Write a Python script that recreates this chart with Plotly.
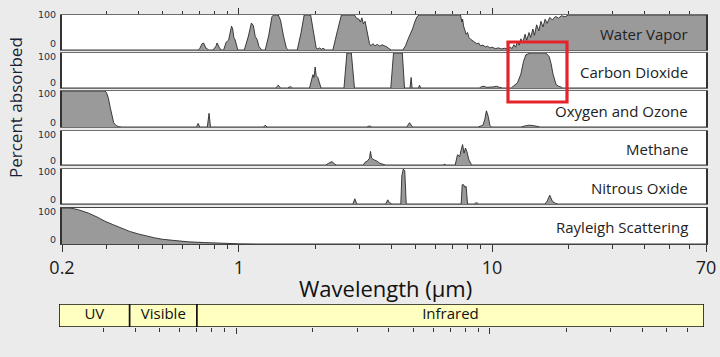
import math
import plotly.graph_objects as go

# ---------------- data ----------------
wv_wl = [0.2, 0.55, 0.58, 0.60, 0.64, 0.65, 0.66, 0.69, 0.70, 0.715, 0.725, 0.74, 0.76,
         0.79, 0.81, 0.82, 0.835, 0.85, 0.87, 0.89, 0.91, 0.925, 0.935, 0.945, 0.955, 0.965, 0.98, 0.99,
         1.05, 1.09, 1.12, 1.14, 1.16, 1.18, 1.20, 1.23,
         1.27, 1.31, 1.35, 1.37, 1.43, 1.46, 1.50, 1.54, 1.57,
         1.70, 1.76, 1.81, 1.92, 1.97, 2.02, 2.05, 2.08, 2.12, 2.15, 2.20,
         2.35, 2.45, 2.54, 2.86, 2.92, 2.98, 3.02, 3.06, 3.10, 3.15, 3.20, 3.28, 3.32, 3.38, 3.45,
         3.52, 3.60, 3.68, 3.75, 3.82, 3.90, 4.00, 4.44,
         4.55, 4.65, 4.75, 4.85, 4.95, 5.05, 5.15, 7.50,
         7.60, 7.65, 7.72, 7.80, 7.90, 8.00, 8.10, 8.25, 8.40, 8.55, 8.70, 8.85, 9.00, 9.20, 9.40,
         9.60, 9.80, 10.0, 10.3, 10.6, 10.9, 11.2, 11.5, 11.8, 12.0, 12.2, 12.4, 12.6, 12.8, 13.0,
         13.2, 13.5, 13.7, 14.0, 14.2, 14.5, 14.7, 15.0, 15.3, 15.6, 15.9, 16.2, 16.5, 16.9, 17.3,
         17.8, 18.3, 18.8, 19.4, 20.0, 70.0]
wv_pct = [0, 0, 2, 0, 0, 2, 0, 0, 4, 18, 20, 6, 0,
          0, 10, 20, 8, 0, 0, 22, 28, 55, 68, 60, 35, 30, 10, 0,
          0, 40, 77, 70, 38, 30, 10, 0,
          0, 40, 95, 100, 100, 85, 40, 5, 0,
          0, 50, 100, 100, 50, 5, 3, 6, 2, 5, 0,
          0, 55, 100, 100, 90, 88, 80, 92, 75, 82, 55, 18, 12, 18, 12,
          16, 11, 15, 12, 10, 5, 0, 0,
          12, 30, 45, 60, 80, 95, 100, 100,
          80, 88, 68, 58, 45, 50, 36, 30, 25, 22, 18, 20, 12, 14, 9,
          11, 6, 8, 4, 6, 3, 5, 3, 8, 4, 15, 8, 25, 14, 32,
          20, 45, 28, 50, 36, 60, 42, 72, 55, 82, 66, 88, 76, 93, 86,
          96, 91, 98, 95, 100, 100]

co2_wl = [0.2, 1.40, 1.43, 1.46, 1.56, 1.58, 1.61, 1.63,
          1.90, 1.94, 1.96, 1.98, 2.00, 2.02, 2.05, 2.08, 2.11,
          2.60, 2.67, 2.78, 2.86,
          3.98, 4.08, 4.42, 4.51,
          4.74, 4.79, 4.83, 5.12, 5.17, 5.22,
          8.9, 9.1, 9.3, 9.5, 10.1, 10.4, 10.7, 11.0,
          11.9, 12.1, 12.6, 13.0, 13.3, 13.6, 14.2, 16.3, 16.8, 17.1, 17.4, 17.9, 18.3, 18.7, 19.0, 70.0]
co2_pct = [0, 0, 8, 0, 0, 3, 3, 0,
           0, 25, 38, 30, 60, 35, 30, 15, 0,
           0, 100, 100, 0,
           0, 100, 100, 0,
           0, 30, 0, 0, 8, 0,
           0, 4, 5, 2, 3, 5, 2, 0,
           0, 5, 15, 40, 75, 95, 100, 100, 90, 70, 40, 10, 5, 3, 0, 0]

oz_wl = [0.2, 0.296, 0.300, 0.305, 0.310, 0.315, 0.320, 0.327, 0.335, 0.345,
         0.68, 0.69, 0.70, 0.75, 0.762, 0.772, 1.25, 1.27, 1.29, 3.2, 3.28, 3.35,
         4.6, 4.72, 4.80, 4.85, 8.8, 9.0, 9.2, 9.35, 9.5, 9.65, 9.8, 9.95,
         13.0, 13.5, 14.0, 14.5, 15.0, 15.5, 70.0]
oz_pct = [100, 100, 95, 80, 55, 30, 12, 4, 1, 0,
          0, 10, 0, 0, 38, 0, 0, 5, 0, 0, 3, 0,
          0, 12, 2, 0, 0, 3, 5, 20, 45, 30, 5, 0,
          0, 3, 5, 4, 2, 0, 0]

ch4_wl = [0.2, 1.60, 1.65, 1.70, 2.20, 2.26, 2.30, 2.33, 2.37, 2.42,
          3.10, 3.15, 3.22, 3.28, 3.31, 3.34, 3.42, 3.50, 3.60, 3.70, 3.80,
          6.40, 6.50, 6.60, 7.15, 7.30, 7.45, 7.55, 7.65, 7.75, 7.85, 7.95, 8.10, 8.30, 70.0]
ch4_pct = [0, 0, 2, 0, 0, 5, 9, 10, 5, 0,
           0, 8, 12, 20, 40, 20, 15, 12, 5, 2, 0,
           0, 2, 0, 0, 30, 25, 45, 60, 35, 50, 40, 15, 0, 0]

n2o_wl = [0.2, 2.82, 2.87, 2.92, 3.80, 3.87, 3.93, 3.98, 4.02,
          4.36, 4.40, 4.46, 4.52, 4.58, 7.55, 7.62, 7.72, 7.80, 7.90, 8.00,
          8.50, 8.60, 8.75, 8.85, 16.2, 16.5, 16.9, 17.3, 17.8, 18.2, 70.0]
n2o_pct = [0, 0, 15, 0, 0, 12, 4, 3, 0,
           0, 80, 100, 95, 0, 0, 55, 55, 48, 50, 0,
           0, 3, 3, 0, 0, 8, 25, 8, 2, 0, 0]

ray_wl = [0.2, 0.215, 0.23, 0.254, 0.275, 0.296, 0.32, 0.344, 0.37, 0.40, 0.43, 0.465,
          0.50, 0.54, 0.58, 0.63, 0.73, 0.85, 1.0, 1.2, 70.0]
ray_pct = [100, 100, 96, 86, 75, 63, 53, 44, 35, 28, 22, 17,
           13, 10, 8, 6, 4, 2, 0.5, 0, 0]

panel_names = ["Water Vapor", "Carbon Dioxide", "Oxygen and Ozone",
               "Methane", "Nitrous Oxide", "Rayleigh Scattering"]
series_wl = [wv_wl, co2_wl, oz_wl, ch4_wl, n2o_wl, ray_wl]
series_pct = [wv_pct, co2_pct, oz_pct, ch4_pct, n2o_pct, ray_pct]

band_names = ["UV", "Visible", "Infrared"]
band_edges = [0.2, 0.38, 0.7, 70.0]

x_tick_vals = [0.2, 1, 10, 70]
x_tick_text = ["0.2", "1", "10", "70"]
minor_vals = [0.3, 0.4, 0.5, 0.6, 0.7, 0.8, 0.9, 2, 3, 4, 5, 6, 7, 8, 9, 20, 30, 40, 50, 60]
y_tick_vals = [0, 100]

# ---------------- layout helpers ----------------
W, H = 720, 357
def pxx(x):
    return x / W
def pxy(y):
    return (H - y) / H

panels_px = [(15, 50), (53, 88), (91, 127), (131, 165), (169, 204), (208, 244)]
XL, XR = 62, 706
xrange_log = [math.log10(0.2), math.log10(70)]

fig = go.Figure()
layout = dict(
    width=W, height=H, autosize=False,
    margin=dict(l=0, r=0, t=0, b=0, pad=0, autoexpand=False),
    paper_bgcolor="#ebebeb",
    plot_bgcolor="white",
    showlegend=False,
    font=dict(family="Open Sans", color="#222"),
)

annotations = []
for i, (name, wl, pct) in enumerate(zip(panel_names, series_wl, series_pct)):
    k = "" if i == 0 else str(i + 1)
    fig.add_trace(go.Scatter(
        x=wl, y=pct, mode="lines", fill="tozeroy",
        fillcolor="#9a9a9a", line=dict(color="#2a2a2a", width=0.9),
        xaxis="x" + k, yaxis="y" + k, name=name, hoverinfo="x+y+name"))
    top, bot = panels_px[i]
    xa = dict(domain=[pxx(XL), pxx(XR)], anchor="y" + k, type="log", range=xrange_log,
              showgrid=False, zeroline=False, showline=True, mirror=True, automargin=False,
              linecolor="#6e6e6e", linewidth=1.2, showticklabels=False, ticks="")
    if i == 0:
        xa.update(side="top", ticks="outside", tickvals=[1, 10], ticklen=6, tickwidth=1.3,
                  tickcolor="#333",
                  minor=dict(tickmode="array", tickvals=minor_vals, ticks="outside",
                             ticklen=3, tickwidth=1.2, tickcolor="#333"))
    if i == 5:
        xa.update(ticks="outside", tickvals=x_tick_vals, ticktext=x_tick_text,
                  showticklabels=True, ticklen=7, tickwidth=1.3, tickcolor="#333",
                  linecolor="#444",
                  tickfont=dict(family="Open Sans", size=18, color="#1a1a1a"),
                  minor=dict(tickmode="array", tickvals=minor_vals, ticks="outside",
                             ticklen=4, tickwidth=1.2, tickcolor="#333"))
    ya = dict(domain=[pxy(bot), pxy(top)], anchor="x" + k, range=[0, 100], automargin=False,
              tickvals=y_tick_vals, showticklabels=False, ticks="",
              showgrid=False, zeroline=False, showline=True, mirror=True,
              linecolor="#333", linewidth=1.5, fixedrange=True)
    layout["xaxis" + k] = xa
    layout["yaxis" + k] = ya
    annotations.append(dict(text=name, xref="paper", yref="paper",
                            x=pxx(690), y=pxy((top + bot) / 2 + 1.5),
                            xanchor="right", yanchor="middle", showarrow=False,
                            font=dict(family="Open Sans", size=15, color="#222")))
    y100 = top + (0 if i == 0 else 3)
    y0 = bot - (7 if i == 0 else 5)
    for txt, yy in ((str(y_tick_vals[1]), y100), (str(y_tick_vals[0]), y0)):
        annotations.append(dict(text=txt, xref="paper", yref="paper",
                                x=pxx(58), y=pxy(yy), xanchor="right", yanchor="middle",
                                showarrow=False,
                                font=dict(family="DejaVu Sans", size=9.5, color="#25304d")))

# spectral band bar
BT, BB = 304, 327
for j, nm in enumerate(band_names):
    a, b = band_edges[j], band_edges[j + 1]
    fig.add_trace(go.Scatter(x=[a, b, b, a, a], y=[0, 0, 1, 1, 0], mode="lines",
                             fill="toself", fillcolor="#ffffc0",
                             line=dict(color="#111", width=1.6),
                             xaxis="x7", yaxis="y7", hoverinfo="skip"))
    fig.add_trace(go.Scatter(x=[math.sqrt(a * b)], y=[0.5], mode="text", text=[nm],
                             textfont=dict(family="Liberation Sans Narrow, Open Sans", size=15,
                                           color="#111"),
                             xaxis="x7", yaxis="y7", hoverinfo="skip"))
layout["xaxis7"] = dict(domain=[pxx(59), pxx(704)], anchor="y7", type="log", range=xrange_log,
                        showgrid=False, zeroline=False, showline=False, showticklabels=False,
                        automargin=False,
                        ticks="outside", tickvals=[1, 10], ticklen=6, tickwidth=1.3,
                        tickcolor="#333",
                        minor=dict(tickmode="array", tickvals=minor_vals, ticks="outside",
                                   ticklen=4, tickwidth=1.2, tickcolor="#333"))
layout["yaxis7"] = dict(domain=[pxy(BB), pxy(BT)], anchor="x7", range=[0, 1], visible=False)

annotations.append(dict(text="Wavelength (μm)", xref="paper", yref="paper",
                        x=pxx(385), y=pxy(288), xanchor="center", yanchor="middle",
                        showarrow=False, font=dict(family="Open Sans", size=22, color="#111")))
annotations.append(dict(text="Percent absorbed", xref="paper", yref="paper",
                        x=pxx(15), y=pxy(108), xanchor="center", yanchor="middle",
                        textangle=-90, showarrow=False,
                        font=dict(family="Open Sans", size=17, color="#1a1f35")))

layout["annotations"] = annotations
layout["shapes"] = [dict(type="rect", xref="paper", yref="paper",
                         x0=pxx(508), x1=pxx(567), y0=pxy(102), y1=pxy(42),
                         line=dict(color="#e3242b", width=3.2), fillcolor="rgba(0,0,0,0)")]

fig.update_layout(**layout)
fig.write_html("out.html",
               post_script="document.body.style.margin='0';document.body.style.overflow='hidden';",
               config={"responsive": False, "displayModeBar": False})
